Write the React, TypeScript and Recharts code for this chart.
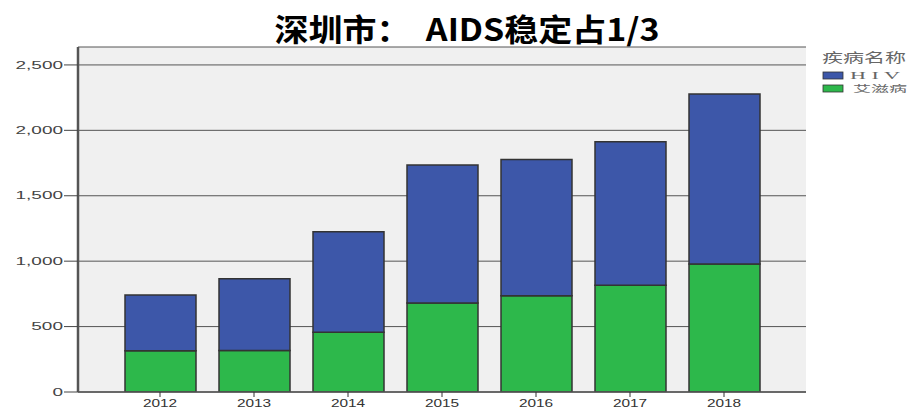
import React from 'react';
import { BarChart, Bar, XAxis, YAxis, CartesianGrid, Legend } from 'recharts';

const years = ['2012', '2013', '2014', '2015', '2016', '2017', '2018'];
const aidsValues = [316, 318, 456, 680, 736, 816, 979];
const hivValues = [426, 548, 769, 1055, 1042, 1096, 1299];
const yTicks = [0, 500, 1000, 1500, 2000, 2500];

const titleText = '深圳市：  AIDS稳定占1/3';
const legendTitle = '疾病名称';
const hivName = 'H I V';
const aidsName = '艾滋病';

const BLUE = '#3d57a9';
const GREEN = '#2db84b';

const data = years.map((y, i) => ({ year: y, aids: aidsValues[i], hiv: hivValues[i] }));

const fmt = (v: number) => v.toLocaleString('en-US');

const YTick = (props: any) => {
  const { x, y, payload } = props;
  return (
    <g transform={`translate(${x},${y})`}>
      <text transform="scale(1.9,1)" textAnchor="end" dy={3.6} fontSize={10} fill="#444" fontFamily="'Liberation Sans', Arial, sans-serif">
        {fmt(payload.value)}
      </text>
    </g>
  );
};

const XTick = (props: any) => {
  const { x, y, payload } = props;
  return (
    <g transform={`translate(${x},${y})`}>
      <text transform="scale(1.4,1)" textAnchor="middle" dy={7.5} fontSize={11} fill="#333" fontFamily="'Liberation Sans', Arial, sans-serif">
        {payload.value}
      </text>
    </g>
  );
};

const LegendContent = (props: any) => {
  const payload = props.payload || [];
  const order = [hivName, aidsName];
  const items = order
    .map((n) => payload.find((p: any) => p.value === n))
    .filter(Boolean);
  const widths: Record<string, number> = { [hivName]: 50, [aidsName]: 54 };
  const offs: Record<string, number> = { [hivName]: 32, [aidsName]: 35 };
  return (
    <div style={{ position: 'absolute', left: 818, top: 48 }}>
      <svg width={98} height={52}>
        <text x={4} y={14} fontSize={13} fill="#666" textLength={84} lengthAdjust="spacingAndGlyphs" fontFamily="'Noto Sans CJK SC', sans-serif">
          {legendTitle}
        </text>
        {items.map((it: any, i: number) => (
          <g key={it.value}>
            <rect x={5} y={24 + i * 13} width={20} height={7} fill={it.color} stroke="#333" strokeWidth={0.8} />
            <text
              x={offs[it.value]}
              y={31 + i * 13}
              fontSize={9.5}
              fill="#666"
              textLength={widths[it.value]}
              lengthAdjust="spacingAndGlyphs"
              fontFamily={it.value === hivName ? "'Liberation Serif', serif" : "'Noto Sans CJK SC', sans-serif"}
            >
              {it.value}
            </text>
          </g>
        ))}
      </svg>
    </div>
  );
};

export default function App() {
  return (
    <div style={{ position: 'relative', width: 916, height: 409, background: '#fff', overflow: 'hidden' }}>
      <style>{'body{margin:0}'}</style>
      <svg width={916} height={50} style={{ position: 'absolute', left: 0, top: 0 }}>
        <text
          x={467}
          y={41}
          textAnchor="middle"
          fontSize={31}
          fontWeight="bold"
          fill="#000"
          textLength={385}
          lengthAdjust="spacingAndGlyphs"
          style={{ whiteSpace: 'pre' }}
          fontFamily="'Noto Sans CJK SC', sans-serif"
        >
          {titleText}
        </text>
      </svg>
      <BarChart width={916} height={409} data={data} margin={{ top: 47, right: 110, bottom: 0, left: 0 }}>
        <CartesianGrid vertical={false} stroke="#555" strokeWidth={1} fill="#f0f0f0" />
        <XAxis
          dataKey="year"
          height={17}
          padding={{ left: 35, right: 35 }}
          tick={<XTick />}
          tickSize={5}
          tickMargin={2}
          tickLine={{ stroke: '#333' }}
          axisLine={{ stroke: '#555', strokeWidth: 1.5 }}
          interval={0}
        />
        <XAxis xAxisId="top" dataKey="year" orientation="top" height={0} tick={false} tickLine={false} axisLine={{ stroke: '#c8c8c8', strokeWidth: 1.5 }} />
        <YAxis
          width={78}
          domain={[0, 2637]}
          ticks={yTicks}
          tick={<YTick />}
          tickSize={14}
          tickMargin={1}
          tickLine={{ stroke: '#444' }}
          axisLine={{ stroke: '#555', strokeWidth: 2.5 }}
          allowDataOverflow
        />
        <YAxis yAxisId="right" orientation="right" width={0} tick={false} tickLine={false} axisLine={{ stroke: '#999', strokeWidth: 2.5 }} />
        <Legend content={<LegendContent />} wrapperStyle={{ position: 'absolute', left: 0, top: 0, width: 0, height: 0 }} />
        <Bar dataKey="aids" name={aidsName} stackId="a" fill={GREEN} stroke="#333" strokeWidth={1.5} barSize={71} isAnimationActive={false} />
        <Bar dataKey="hiv" name={hivName} stackId="a" fill={BLUE} stroke="#333" strokeWidth={1.5} barSize={71} isAnimationActive={false} />
      </BarChart>
    </div>
  );
}
